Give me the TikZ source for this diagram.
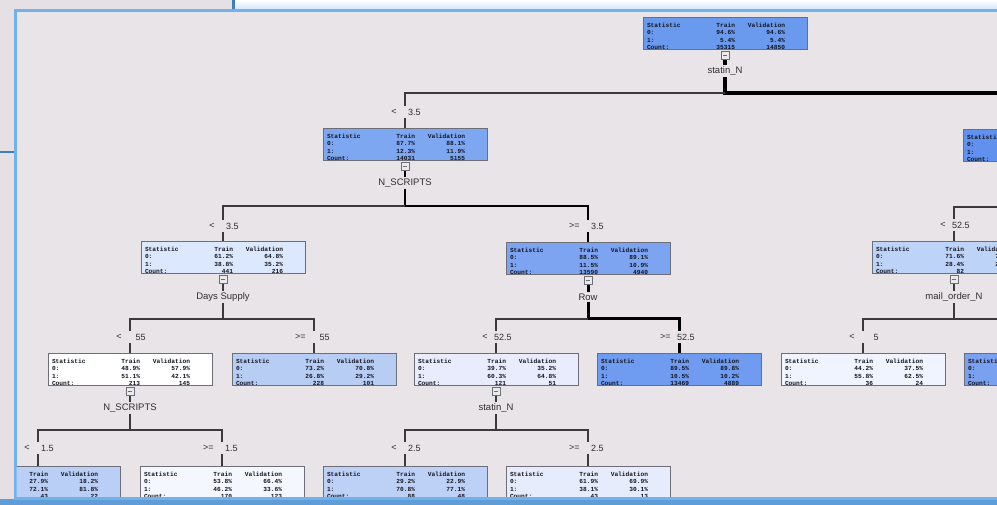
\documentclass[tikz,border=0pt]{standalone}
\usepackage{fontspec}
\setmainfont{Liberation Sans}
\newfontfamily\boxfont{Liberation Mono}
\usetikzlibrary{positioning}

\definecolor{win-bg}{HTML}{E4E0E4}
\definecolor{panel-bg}{HTML}{E8E4E8}
\definecolor{panel-rim}{HTML}{72B2EA}
\definecolor{win-rim}{HTML}{3F7DBD}
\definecolor{box-rim}{HTML}{6E6E78}
\definecolor{box-ink}{HTML}{141420}
\definecolor{label-ink}{HTML}{303030}
\definecolor{link-ink}{HTML}{3A3A3A}
% node fills, dark = many cases of 0
\definecolor{fill-a}{HTML}{6A9AEE}
\definecolor{fill-b}{HTML}{7EA7F2}
\definecolor{fill-c}{HTML}{6191EE}
\definecolor{fill-d}{HTML}{DCE8FD}
\definecolor{fill-e}{HTML}{7CA4F1}
\definecolor{fill-f}{HTML}{BED3F8}
\definecolor{fill-g}{HTML}{FFFFFF}
\definecolor{fill-h}{HTML}{B7CDF4}
\definecolor{fill-i}{HTML}{E8ECFD}
\definecolor{fill-j}{HTML}{6F9CF0}
\definecolor{fill-k}{HTML}{EFF4FE}
\definecolor{fill-l}{HTML}{79A1F0}
\definecolor{fill-m}{HTML}{B9CFF5}
\definecolor{fill-n}{HTML}{F4F7FE}
\definecolor{fill-o}{HTML}{BDD1F6}
\definecolor{fill-p}{HTML}{E6ECFC}

\tikzset{
     %set default line width to 0.75pt
    every picture/.style={line width=0.75pt},
    stat-box/.style={
        draw=box-rim,
        anchor=north,
        minimum width=164pt,
        minimum height=32pt,
        inner sep=0pt,
    },
    stat-text/.style={
        anchor=north west,
        inner sep=0pt,
        align=left,
        text=box-ink,
        font=\boxfont\bfseries\fontsize{6.2}{7.5}\selectfont,
    },
    toggle/.style={
        draw=box-rim,
        fill=white!92!black,
        minimum size=8pt,
        inner sep=0pt,
        line width=0.8pt,
        path picture={\draw[line width=0.6pt] ([xshift=-2.2pt]path picture bounding box.center) -- ([xshift=2.2pt]path picture bounding box.center);},
    },
    var-label/.style={
        text=label-ink,
        inner sep=1pt,
        font=\fontsize{9.5}{11}\selectfont,
    },
    split/.style={
        minimum width=0pt,
        minimum height=12pt,
        inner sep=0pt,
    },
    cond-text/.style={
        anchor=east,
        inner sep=0pt,
        text=label-ink,
        font=\fontsize{9}{10}\selectfont,
    },
    link/.style={draw=link-ink, line width=1.2pt},
    link-mid/.style={draw=black, line width=2pt},
    link-wide/.style={draw=black, line width=3pt},
    link-thick/.style={draw=black, line width=4pt},
}

% box with the four rows of statistics, last row cut by the rim
\newcommand{\statbox}[9]{%
    \node[stat-box, fill=#3] (#1) at #2 {};
    \begin{scope}
        \clip (#1.south west) rectangle (#1.north east);
        \node[stat-text] (#1-txt) at ([xshift=4pt,yshift=-5.6pt]#1.north west) {%
            \makebox[48pt][l]{Statistic}\makebox[40pt][r]{Train}\makebox[50pt][r]{Validation}\\
            \makebox[48pt][l]{0:}\makebox[40pt][r]{#4}\makebox[50pt][r]{#5}\\
            \makebox[48pt][l]{1:}\makebox[40pt][r]{#6}\makebox[50pt][r]{#7}\\
            \makebox[48pt][l]{Count:}\makebox[40pt][r]{#8}\makebox[50pt][r]{#9}};
    \end{scope}
}
% gap in a branch with its rule
\newcommand{\splitat}[4]{%
    \node[split] (#1) at #2 {};
    \node[cond-text] (#1-op) at ([xshift=-8pt]#1.center) {#3};
    \node[cond-text] (#1-val) at ([xshift=16pt]#1.center) {#4};
}

\begin{document}
\begin{tikzpicture}[x=1pt,y=-1pt]
\useasboundingbox (0,0) rectangle (997,505);
\clip (0,0) rectangle (997,505);

%Window behind
\fill[win-bg] (0,0) rectangle (997,505);
\shade[top color=white, bottom color=panel-rim!35] (233,0) rectangle (997,10);
\draw[win-rim, line width=3pt] (233,0) -- (233,11);
\draw[win-rim, line width=2pt] (0,152) -- (14,152);
\fill[panel-rim!60!win-rim] (0,499) rectangle (997,505);

%Tree panel
\filldraw[fill=panel-bg, draw=panel-rim, line width=3pt] (15,11) rectangle (1010,498);

\begin{scope}
\clip (16.5,12.5) rectangle (1008,496.5);

% Boxes
\statbox{root}{(725,17)}{fill-a}{94.6\%}{94.6\%}{5.4\%}{5.4\%}{35315}{14850}
\statbox{n1}{(405,128)}{fill-b}{87.7\%}{88.1\%}{12.3\%}{11.9\%}{14031}{5155}
\statbox{n2}{(1045,129)}{fill-c}{97.3\%}{97.2\%}{2.7\%}{2.8\%}{21284}{9695}
\statbox{n3}{(223,241)}{fill-d}{61.2\%}{64.8\%}{38.8\%}{35.2\%}{441}{216}
\statbox{n4}{(588,242)}{fill-e}{88.5\%}{89.1\%}{11.5\%}{10.9\%}{13590}{4940}
\statbox{n5}{(954,241)}{fill-f}{71.6\%}{70.4\%}{28.4\%}{29.6\%}{82}{54}
\statbox{n6}{(130,353)}{fill-g}{48.9\%}{57.9\%}{51.1\%}{42.1\%}{213}{145}
\statbox{n7}{(314,353)}{fill-h}{73.2\%}{70.8\%}{26.8\%}{29.2\%}{228}{101}
\statbox{n8}{(496,353)}{fill-i}{39.7\%}{35.2\%}{60.3\%}{64.8\%}{121}{51}
\statbox{n9}{(679,353)}{fill-j}{89.5\%}{89.8\%}{10.5\%}{10.2\%}{13469}{4889}
\statbox{n10}{(863,353)}{fill-k}{44.2\%}{37.5\%}{55.8\%}{62.5\%}{36}{24}
\statbox{n11}{(1046,353)}{fill-l}{91.3\%}{90.0\%}{8.7\%}{10.0\%}{46}{30}
\statbox{n12}{(38,466)}{fill-m}{27.9\%}{18.2\%}{72.1\%}{81.8\%}{43}{22}
\statbox{n13}{(222,466)}{fill-n}{53.8\%}{66.4\%}{46.2\%}{33.6\%}{170}{123}
\statbox{n14}{(405,466)}{fill-o}{29.2\%}{22.9\%}{70.8\%}{77.1\%}{88}{48}
\statbox{n15}{(588,466)}{fill-p}{61.9\%}{69.9\%}{38.1\%}{30.1\%}{43}{13}

% Toggles
\node[toggle, below=1pt of root] (t0) {};
\node[toggle, below=1pt of n1] (t1) {};
\node[toggle, below=1pt of n3] (t3) {};
\node[toggle, below=1pt of n4] (t4) {};
\node[toggle, below=1pt of n5] (t5) {};
\node[toggle, below=1pt of n6] (t6) {};
\node[toggle, below=1pt of n8] (t8) {};

% Text Node
\node[var-label] (v0) at (725,71) {statin\_N};
\node[var-label] (v1) at (405,183) {N\_SCRIPTS};
\node[var-label] (v3) at (223,297) {Days Supply};
\node[var-label] (v4) at (588,297) {Row};
\node[var-label] (v5) at (954,297) {mail\_order\_N};
\node[var-label] (v6) at (130,408) {N\_SCRIPTS};
\node[var-label] (v8) at (496,408) {statin\_N};

% Rules
\splitat{g1}{(405,112)}{<}{3.5}
\splitat{g3}{(223,226)}{<}{3.5}
\splitat{g4}{(588,226)}{>=}{3.5}
\splitat{g5}{(954,225)}{<}{52.5}
\splitat{g6}{(130,337)}{<}{55}
\splitat{g7}{(314,337)}{>=}{55}
\splitat{g8}{(496,337)}{<}{52.5}
\splitat{g9}{(679,337)}{>=}{52.5}
\splitat{g10}{(863,337)}{<}{5}
\splitat{g12}{(38,448)}{<}{1.5}
\splitat{g13}{(222,448)}{>=}{1.5}
\splitat{g14}{(405,448)}{<}{2.5}
\splitat{g15}{(588,448)}{>=}{2.5}

\coordinate (h0) at (725,93);
\coordinate (h1) at (405,206);
\coordinate (h2) at (1045,207);
\coordinate (h3) at (223,319);
\coordinate (h4) at (588,319);
\coordinate (h5) at (954,319);
\coordinate (h6) at (130,430);
\coordinate (h8) at (496,430);

% Branches
\draw[link-thick] (t0) -- (v0);
\draw[link-thick] (v0) -- (h0) -| (n2);
\draw[link] (h0) -| (g1);
\draw[link] (g1) -- (n1);

\draw[link-mid] (t1) -- (v1);
\draw[link-mid] (v1) -- (h1) -| (g4);
\draw[link-mid] (g4) -- (n4);
\draw[link] (h1) -| (g3);
\draw[link] (g3) -- (n3);

\draw[link] (h2) -| (g5);
\draw[link] (g5) -- (n5);

\draw[link] (t3) -- (v3);
\draw[link] (v3) -- (h3);
\draw[link] (h3) -| (g6);
\draw[link] (g6) -- (n6);
\draw[link] (h3) -| (g7);
\draw[link] (g7) -- (n7);

\draw[link-wide] (t4) -- (v4);
\draw[link-wide] (v4) -- (h4) -| (g9);
\draw[link-wide] (g9) -- (n9);
\draw[link] (h4) -| (g8);
\draw[link] (g8) -- (n8);

\draw[link] (t5) -- (v5);
\draw[link] (v5) -- (h5);
\draw[link] (h5) -| (g10);
\draw[link] (g10) -- (n10);
\draw[link] (h5) -| (n11);

\draw[link] (t6) -- (v6);
\draw[link] (v6) -- (h6);
\draw[link] (h6) -| (g12);
\draw[link] (g12) -- (n12);
\draw[link] (h6) -| (g13);
\draw[link] (g13) -- (n13);

\draw[link] (t8) -- (v8);
\draw[link] (v8) -- (h8);
\draw[link] (h8) -| (g14);
\draw[link] (g14) -- (n14);
\draw[link] (h8) -| (g15);
\draw[link] (g15) -- (n15);
\end{scope}
\end{tikzpicture}
\end{document}
